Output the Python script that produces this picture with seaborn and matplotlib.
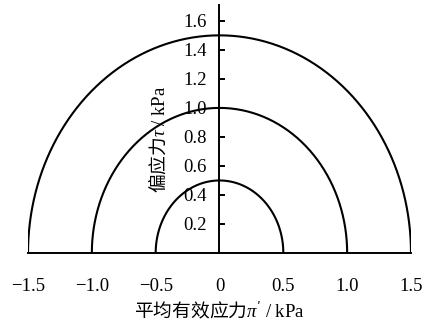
import numpy as np
import pandas as pd
import matplotlib
matplotlib.use("Agg")
import matplotlib.pyplot as plt
import seaborn as sns

# Radii of the three stress circles (kPa)
radii = [0.5, 1.0, 1.5]
x_ticks = [-1.5, -1.0, -0.5, 0.0, 0.5, 1.0, 1.5]
x_tick_labels = ["\u22121.5", "\u22121.0", "\u22120.5", "0", "0.5", "1.0", "1.5"]
y_ticks = [0.2, 0.4, 0.6, 0.8, 1.0, 1.2, 1.4, 1.6]
y_tick_labels = ["0.2", "0.4", "0.6", "0.8", "1.0", "1.2", "1.4", "1.6"]
x_label = r"$\mathrm{平均有效应力}\pi'\mathsf{\ /\ kPa}$"
y_label = r"$\mathrm{偏应力}\tau\mathsf{\ /\ kPa}$"

sns.set_theme(style="white")
plt.rcParams["font.family"] = ["Liberation Serif", "Noto Sans CJK SC"]
plt.rcParams["mathtext.fontset"] = "custom"
plt.rcParams["mathtext.it"] = "Liberation Serif:italic"
plt.rcParams["mathtext.rm"] = "Noto Sans CJK SC"
plt.rcParams["mathtext.sf"] = "Liberation Serif"
plt.rcParams["axes.unicode_minus"] = True

# Build the half-circle outlines from the radii
theta = np.linspace(0.0, np.pi, 361)
frames = []
for r in radii:
    frames.append(pd.DataFrame({"p": r * np.cos(theta),
                                "q": r * np.sin(theta),
                                "radius": r}))
df = pd.concat(frames, ignore_index=True)

fig = plt.figure(figsize=(4.27, 3.25), dpi=100)
ax = fig.add_axes([0.0656, 0.2215, 0.8969, 0.7635])

sns.lineplot(data=df, x="p", y="q", units="radius", estimator=None,
             sort=False, color="black", linewidth=1.5, ax=ax, legend=False)

ax.set_xlim(-1.5, 1.5)
ax.set_ylim(0, 1.71)

for side in ("top", "right"):
    ax.spines[side].set_visible(False)
ax.spines["left"].set_position(("data", 0))
for side in ("left", "bottom"):
    ax.spines[side].set_color("black")
    ax.spines[side].set_linewidth(1.4)

ax.set_xticks(x_ticks)
ax.set_xticklabels(x_tick_labels)
ax.set_yticks(y_ticks)
ax.set_yticklabels(y_tick_labels)
ax.tick_params(axis="x", direction="in", length=0, pad=18, labelsize=13.5,
               colors="black")
ax.tick_params(axis="y", direction="in", length=4, width=1.4, pad=9,
               labelsize=13.5, colors="black", left=True)

ax.set_xlabel(x_label, fontsize=13.5, color="black", labelpad=3)
ax.set_ylabel(y_label, fontsize=13.5, color="black", va="center", ha="center")
ax.yaxis.set_label_coords(0.339, 0.456)
ax.grid(False)

fig.savefig("out.png", dpi=100)
